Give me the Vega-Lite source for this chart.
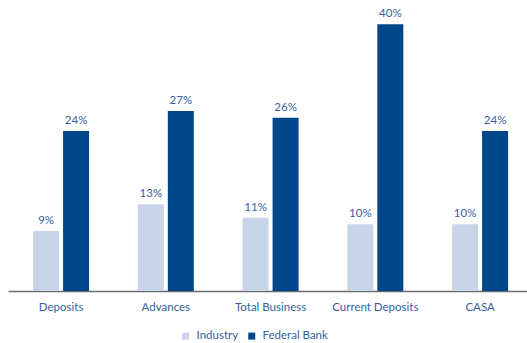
{
  "$schema": "https://vega.github.io/schema/vega-lite/v6.json",
  "width": 519,
  "height": 291,
  "autosize": {"type": "none"},
  "padding": {"left": 8, "top": 0, "right": 0, "bottom": 52},
  "background": "white",
  "config": {
    "view": {"stroke": null},
    "font": "Lato",
    "text": {"font": "Lato"}
  },
  "data": {
    "values": [
      {"category": "Deposits", "series": "Industry", "value": 9, "label": "9%"},
      {"category": "Deposits", "series": "Federal Bank", "value": 24, "label": "24%"},
      {"category": "Advances", "series": "Industry", "value": 13, "label": "13%"},
      {"category": "Advances", "series": "Federal Bank", "value": 27, "label": "27%"},
      {"category": "Total Business", "series": "Industry", "value": 11, "label": "11%"},
      {"category": "Total Business", "series": "Federal Bank", "value": 26, "label": "26%"},
      {"category": "Current Deposits", "series": "Industry", "value": 10, "label": "10%"},
      {"category": "Current Deposits", "series": "Federal Bank", "value": 40, "label": "40%"},
      {"category": "CASA", "series": "Industry", "value": 10, "label": "10%"},
      {"category": "CASA", "series": "Federal Bank", "value": 24, "label": "24%"}
    ]
  },
  "encoding": {
    "x": {
      "field": "category",
      "type": "nominal",
      "sort": null,
      "scale": {"paddingInner": 0.4654, "paddingOuter": 0.21, "align": 0.57},
      "axis": {
        "title": null,
        "labelAngle": 0,
        "ticks": false,
        "domainColor": "#6b6b6b",
        "domainWidth": 1.5,
        "labelColor": "#3561a0",
        "labelFont": "Lato",
        "labelFontSize": 11.5,
        "labelPadding": 10
      }
    },
    "xOffset": {
      "field": "series",
      "type": "nominal",
      "sort": ["Industry", "Federal Bank"],
      "scale": {"paddingInner": 0.1333, "paddingOuter": 0}
    },
    "y": {
      "field": "value",
      "type": "quantitative",
      "scale": {"domain": [0, 43.65], "nice": false},
      "axis": null
    }
  },
  "layer": [
    {
      "mark": {"type": "bar"},
      "encoding": {
        "color": {
          "field": "series",
          "type": "nominal",
          "sort": ["Industry", "Federal Bank"],
          "scale": {"domain": ["Industry", "Federal Bank"], "range": ["#c8d4e7", "#00468b"]},
          "legend": {
            "title": null,
            "orient": "none",
            "legendX": 172,
            "legendY": 330,
            "direction": "horizontal",
            "symbolType": "square",
            "symbolSize": 49,
            "symbolStrokeWidth": 0,
            "labelColor": "#3561a0",
            "labelFont": "Lato",
            "labelFontSize": 11.5,
            "labelOffset": 5,
            "columnPadding": 7
          }
        }
      }
    },
    {
      "mark": {"type": "text", "baseline": "bottom", "dy": -5, "color": "#3561a0", "fontSize": 11.5, "font": "Lato"},
      "encoding": {
        "text": {"field": "label", "type": "nominal"}
      }
    }
  ]
}
